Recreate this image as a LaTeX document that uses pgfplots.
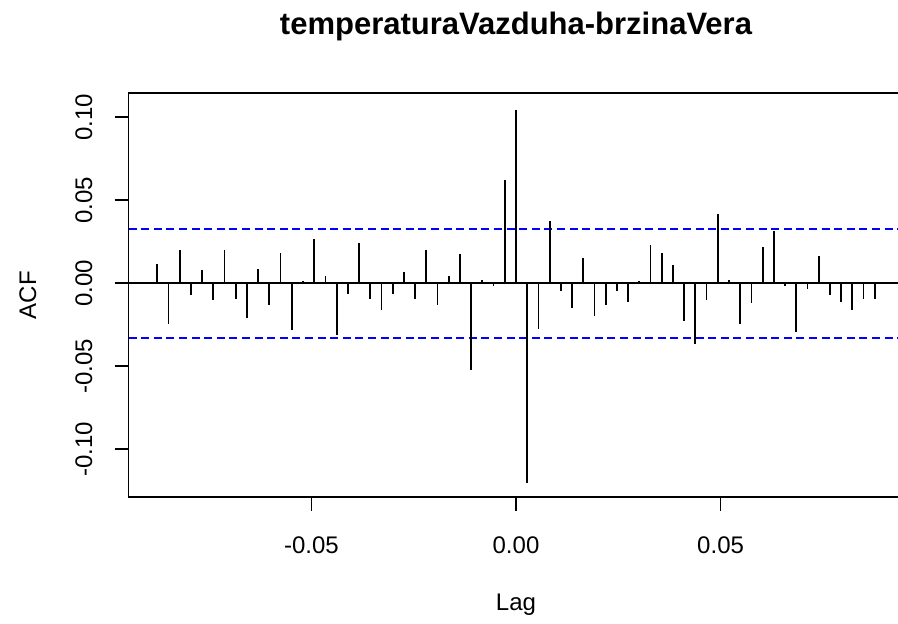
\documentclass[border=0pt]{standalone}
\usepackage{fontspec}
\setmainfont{Liberation Sans}
\usepackage{pgfplots}
\pgfplotsset{compat=1.18}
\usepackage{pgfplotstable}

\pgfplotstableread{
lag acf
-0.087671 0.0116
-0.084932 -0.0243
-0.082192 0.0203
-0.079452 -0.0072
-0.076712 0.0078
-0.073973 -0.0102
-0.071233 0.0203
-0.068493 -0.0092
-0.065753 -0.0207
-0.063014 0.0088
-0.060274 -0.0131
-0.057534 0.0183
-0.054795 -0.0283
-0.052055 0.0012
-0.049315 0.0269
-0.046575 0.0042
-0.043836 -0.0311
-0.041096 -0.0062
-0.038356 0.0241
-0.035616 -0.0092
-0.032877 -0.0159
-0.030137 -0.0064
-0.027397 0.0070
-0.024658 -0.0092
-0.021918 0.0203
-0.019178 -0.0131
-0.016438 0.0042
-0.013699 0.0175
-0.010959 -0.0520
-0.008219 0.0022
-0.005479 -0.0016
-0.002740 0.0620
0.000000 0.1046
0.002740 -0.1201
0.005479 -0.0273
0.008219 0.0373
0.010959 -0.0046
0.013699 -0.0151
0.016438 0.0155
0.019178 -0.0199
0.021918 -0.0131
0.024658 -0.0046
0.027397 -0.0112
0.030137 0.0012
0.032877 0.0231
0.035616 0.0183
0.038356 0.0108
0.041096 -0.0225
0.043836 -0.0367
0.046575 -0.0102
0.049315 0.0420
0.052055 0.0022
0.054795 -0.0245
0.057534 -0.0120
0.060274 0.0221
0.063014 0.0317
0.065753 -0.0016
0.068493 -0.0291
0.071233 -0.0036
0.073973 0.0165
0.076712 -0.0072
0.079452 -0.0110
0.082192 -0.0159
0.084932 -0.0092
0.087671 -0.0092
}\acftable

\begin{document}
\begin{tikzpicture}
\begin{axis}[
  at={(0pt,0pt)}, anchor=south west,
  scale only axis,
  width=387.5pt, height=201.85pt,
  xmin=-0.0947, xmax=0.0947,
  ymin=-0.1287, ymax=0.1145,
  font=\fontsize{12}{14.4}\selectfont,
  axis line style={black, line width=0.9pt},
  tick style={black, line width=0.9pt},
  tick align=outside,
  major tick length=7pt,
  xtick={-0.05,0,0.05},
  ytick={-0.1,-0.05,0,0.05,0.1},
  xtick pos=bottom, ytick pos=left,
  /pgf/number format/assume math mode=true,
  /pgf/number format/fixed,
  /pgf/number format/precision=2,
  /pgf/number format/fixed zerofill,
  scaled ticks=false,
  xticklabel shift=9.5pt,
  yticklabel shift=7.5pt,
  xticklabel style={anchor=north},
  yticklabel style={rotate=90, anchor=south},
  xlabel={Lag},
  ylabel={ACF},
  xlabel style={at={(axis description cs:0.5,-0.2675)}, anchor=center},
  ylabel style={at={(axis description cs:-0.1297,0.5)}, anchor=center, rotate=0},
  title={temperaturaVazduha-brzinaVera},
  title style={at={(axis description cs:0.5,1.1444)}, anchor=base, yshift=-6pt, font=\fontsize{15.5}{18}\selectfont\bfseries},
  clip=true,
]
\addplot[black, line width=0.9pt, forget plot] coordinates {(-0.0947,0) (0.0947,0)};
\addplot[blue, line width=0.9pt, dash pattern=on 4pt off 2.3pt, forget plot] coordinates {(-0.0947,0.0327) (0.0947,0.0327)};
\addplot[blue, line width=0.9pt, dash pattern=on 4pt off 2.3pt, forget plot] coordinates {(-0.0947,-0.0327) (0.0947,-0.0327)};
\addplot[ycomb, black, line width=0.9pt, mark=none] table[x=lag, y=acf] {\acftable};
\end{axis}
\pgfresetboundingbox
\path[use as bounding box] (-64.25pt,-63.5pt) rectangle (384.75pt,248.5pt);
\end{tikzpicture}
\end{document}
